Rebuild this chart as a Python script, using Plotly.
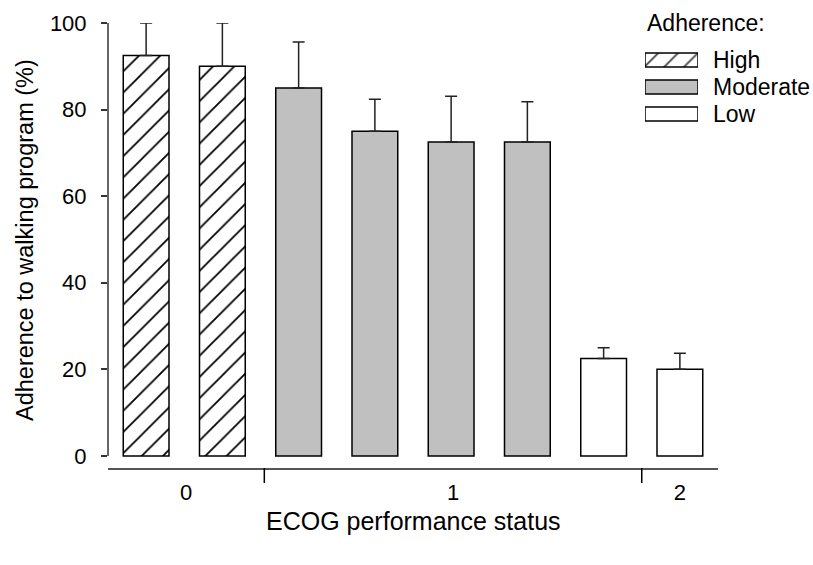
import plotly.graph_objects as go

# ---- data ----
groups = ["High", "Moderate", "Low"]
group_x = [[0, 1], [2, 3, 4, 5], [6, 7]]
group_means = [[92.5, 90.0], [85.0, 75.0, 72.5, 72.5], [22.5, 20.0]]
group_err_up = [[7.5, 10.0], [10.6, 7.4, 10.6, 9.3], [2.5, 3.7]]
ecog_labels = ["0", "1", "2"]
ecog_bounds = [-0.5, 1.55, 6.5, 7.5]
y_ticks = [0, 20, 40, 60, 80, 100]

fills = {"High": "white", "Moderate": "#c0c0c0", "Low": "white"}
patterns = {"High": "/", "Moderate": "", "Low": ""}

FONT = "Liberation Sans, Arial, sans-serif"
W, H = 813, 565
L, R, T, B = 108, 95, 23, 97
pw, ph = W - L - R, H - T - B

fig = go.Figure()
for g, xs, ms, es in zip(groups, group_x, group_means, group_err_up):
    fig.add_trace(go.Bar(
        x=xs, y=ms, width=0.6, name=g, showlegend=False,
        marker=dict(color=fills[g], line=dict(color="black", width=1.5),
                    pattern=dict(shape=patterns[g], fgcolor="black", bgcolor="white",
                                 fgopacity=1, size=15, solidity=0.12)),
        error_y=dict(type="data", symmetric=False, array=es, arrayminus=[0] * len(es),
                     color="#222222", thickness=1.5, width=6),
    ))

# legend swatches drawn as bars on an auxiliary axis
fig.add_trace(go.Bar(
    x=[1, 1, 1], y=[0, 1, 2], orientation="h", width=0.52, showlegend=False,
    xaxis="x2", yaxis="y2", hoverinfo="skip",
    marker=dict(color=[fills[g] for g in groups], line=dict(color="black", width=1.5),
                pattern=dict(shape=[patterns[g] for g in groups], fgcolor="black",
                             bgcolor="white", fgopacity=1, size=14, solidity=0.13)),
))

def px_x(p):
    return (p - L) / pw

def px_y(p):
    return (H - B - p) / ph

tick_pos = [(a + b) / 2 for a, b in zip(ecog_bounds[:-1], ecog_bounds[1:])]

fig.update_layout(
    width=W, height=H,
    margin=dict(l=L, r=R, t=T, b=B, pad=0),
    paper_bgcolor="white", plot_bgcolor="white",
    font=dict(family=FONT, size=22, color="black"),
    bargap=0.4,
    xaxis=dict(range=[-0.5, 7.5], showgrid=False, zeroline=False, showline=True,
               linecolor="#555555", linewidth=2, ticks="", tickvals=tick_pos,
               ticktext=ecog_labels, ticklabelstandoff=4, fixedrange=True,
               automargin=False, tickfont=dict(size=22)),
    yaxis=dict(range=[-2.8, 100], showgrid=False, zeroline=False, showline=False,
               ticks="outside", ticklen=6, tickwidth=1.5, tickcolor="#333333",
               tickvals=y_ticks, ticklabelstandoff=10, automargin=False,
               tickfont=dict(size=22)),
    xaxis2=dict(domain=[px_x(645), px_x(698)], range=[0, 1], visible=False,
                anchor="y2", fixedrange=True),
    yaxis2=dict(domain=[px_y(127.5), px_y(46.5)], range=[2.5, -0.5], visible=False,
                anchor="x2", fixedrange=True),
)

# y axis line spanning 0..100
fig.add_shape(type="line", xref="paper", yref="y", x0=0, x1=0, y0=0, y1=100,
              line=dict(color="#333333", width=1.5))
# group separator ticks below the x axis
for b in ecog_bounds[1:-1]:
    fig.add_shape(type="line", xref="x", yref="paper", x0=b, x1=b, y0=0, y1=-15 / ph,
                  line=dict(color="black", width=1.5))

# axis titles
fig.add_annotation(text="ECOG performance status", xref="paper", yref="paper",
                   x=0.5, y=px_y(521), xanchor="center", yanchor="middle",
                   showarrow=False, font=dict(size=25))
fig.add_annotation(text="Adherence to walking program (%)", xref="paper", yref="paper",
                   x=px_x(25), y=px_y(240), xanchor="center", yanchor="middle",
                   textangle=-90, showarrow=False, font=dict(size=23.5))

# legend texts
fig.add_annotation(text="Adherence:", xref="paper", yref="paper", x=px_x(645), y=px_y(23),
                   xanchor="left", yanchor="middle", showarrow=False, font=dict(size=23))
for i, g in enumerate(groups):
    fig.add_annotation(text=g, xref="paper", yref="paper", x=px_x(711), y=px_y(60 + 27 * i),
                       xanchor="left", yanchor="middle", showarrow=False, font=dict(size=23))

fig.write_html("out.html", config={"displayModeBar": False},
               post_script="document.body.style.margin='0';")
